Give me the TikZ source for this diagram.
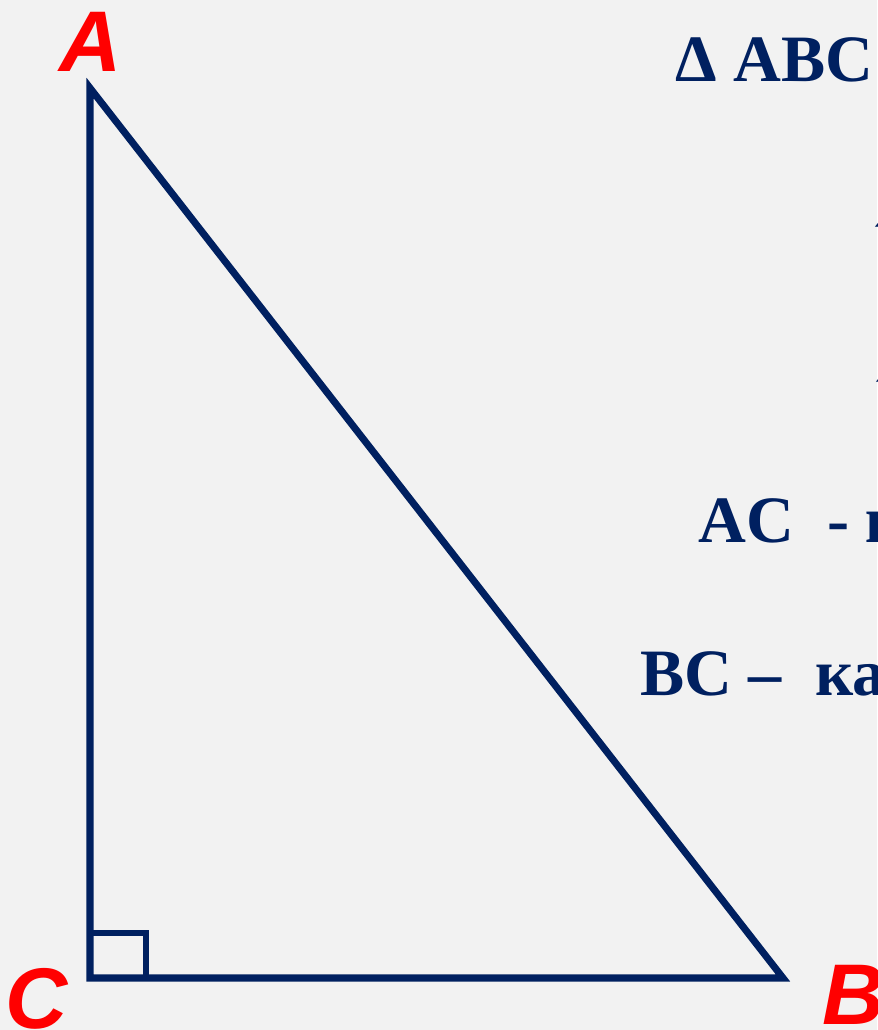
\documentclass[tikz,border=0pt]{standalone}
\usepackage{fontspec}
\setmainfont{Liberation Serif}
\newfontfamily\labelfont{Liberation Sans}
\newfontfamily\symbolfont{DejaVu Serif}
\usepackage{tikz}
\usetikzlibrary{positioning, calc}
\definecolor{navyBlue}{RGB}{0, 32, 96}
\definecolor{vertexRed}{RGB}{255, 0, 0}
\definecolor{slideGray}{RGB}{242, 242, 242}

\begin{document}
\begin{tikzpicture}[
    side/.style={
        line width=4pt,
        color=navyBlue,
        line join=miter
    },
    rightmark/.style={
        line width=3.4pt,
        color=navyBlue
    },
    vertexlabel/.style={
        inner sep=0pt,
        anchor=base,
        text=vertexRed,
        font=\labelfont\bfseries\itshape\fontsize{49}{49}\selectfont
    },
    note/.style={
        inner sep=0pt,
        anchor=base west,
        text=navyBlue,
        font=\bfseries\fontsize{37.7}{40}\selectfont
    }
]

% Slide frame
\fill[slideGray] (0, 0) rectangle (17.54, 20.6);
\clip (0, 0) rectangle (17.54, 20.6);

% Vertices
\coordinate (A) at (1.8, 18.84);
\coordinate (C) at (1.8, 1.04);
\coordinate (B) at (15.66, 1.04);

% Right angle at C
\draw[rightmark] ($(C) + (0, 0.9)$) -| ($(C) + (1.12, 0)$);

% Triangle
\draw[side] (A) -- (C) -- (B) -- cycle;

% Vertex labels
\node[vertexlabel] (lblA) at (1.82, 19.16) {A};
\node[vertexlabel] (lblC) at (0.74, 0.02) {C};
\node[vertexlabel, anchor=base west] (lblB) at (16.44, 0.1) {B};

% Notes on the right
\node[note] (title) at (13.5, 18.96) {Δ ABC};
\node[note] (angC) at (17.34, 15.94) {\symbolfont ∠};
\node[note] (angAB) at (17.36, 12.84) {\symbolfont ∠};
\node[note] (legAC) at (13.96, 9.74) {AC~~- катет};
\node[note] (legBC) at (12.8, 6.68) {BC –~~катет};

\end{tikzpicture}
\end{document}
